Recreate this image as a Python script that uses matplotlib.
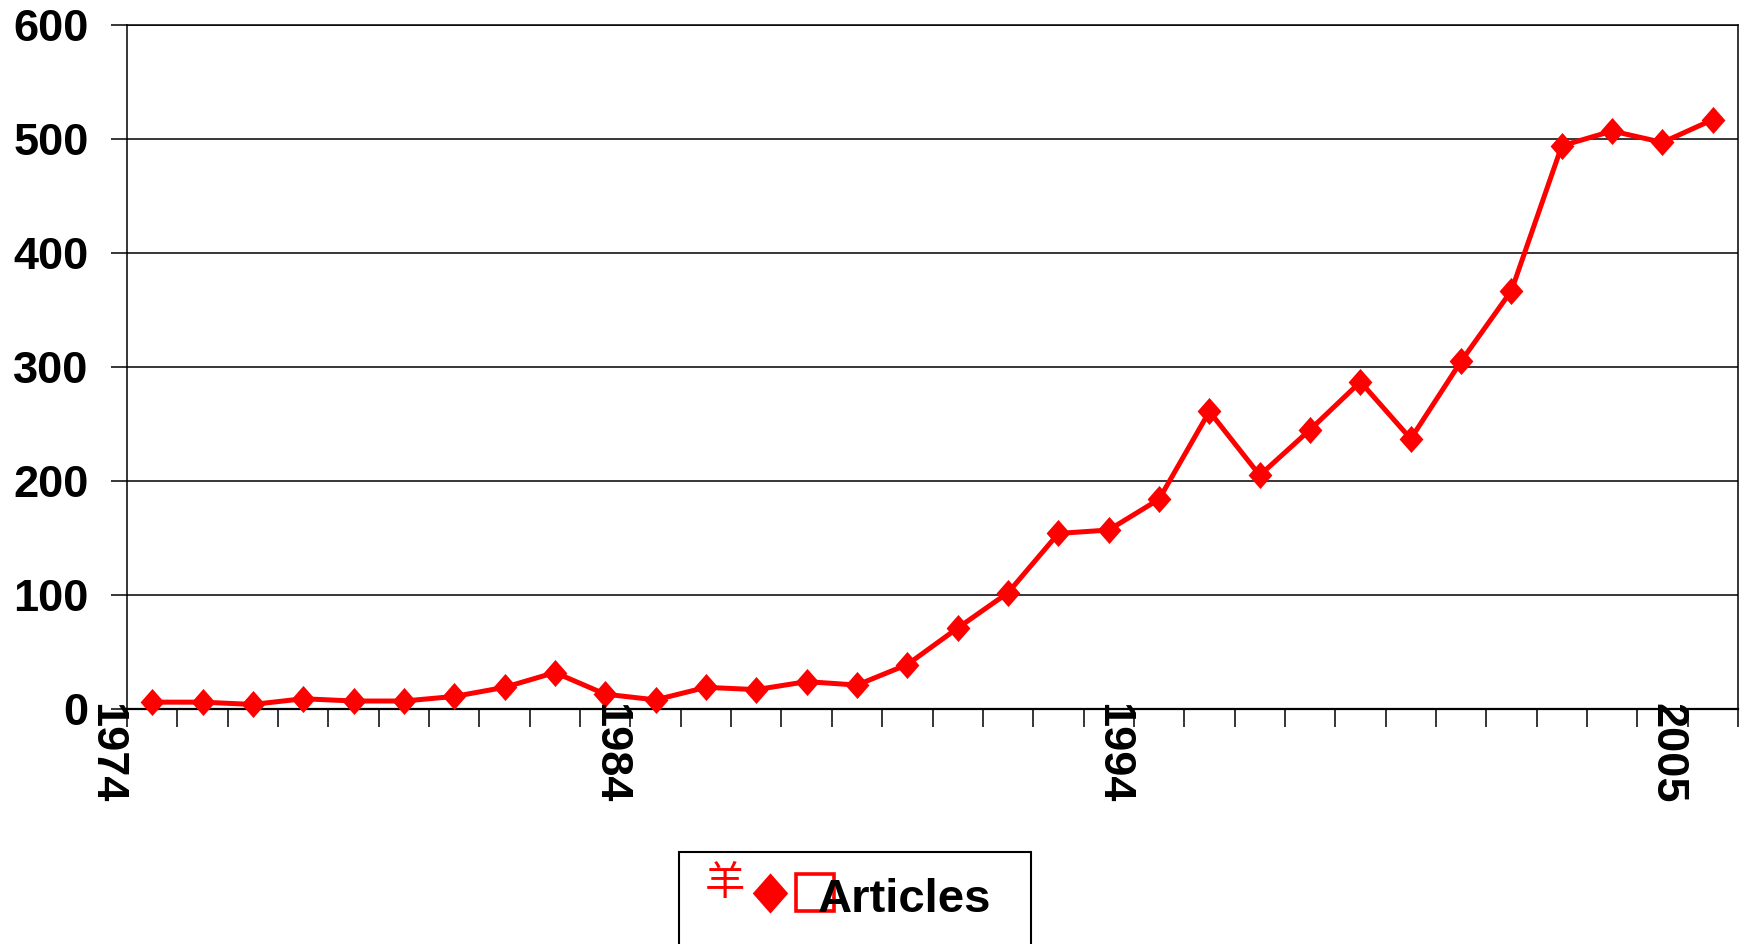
"""Line chart of articles per year, 1974-2005, in the style of an old Excel export."""
import matplotlib

matplotlib.use("Agg")
import matplotlib.pyplot as plt
import matplotlib.transforms as mtransforms
from matplotlib.lines import Line2D
from matplotlib.patches import Rectangle

plt.rcParams["font.family"] = ["Liberation Sans", "DejaVu Sans"]
plt.rcParams["font.weight"] = "bold"

# Data
years = list(range(1974, 2006))
articles = [6, 6, 4, 9, 7, 7, 11, 19, 32, 13, 8, 19, 17, 24, 21, 39,
            71, 102, 154, 157, 184, 261, 205, 245, 287, 237, 305, 367,
            494, 507, 497, 517]
label_years = [1974, 1984, 1994, 2005]
y_ticks = [0, 100, 200, 300, 400, 500, 600]
series_name = "Articles"

W, H = 1746, 944
fig = plt.figure(figsize=(W / 100, H / 100), dpi=100)
ax = fig.add_axes([127 / W, (H - 709) / H, (1738 - 127) / W, (709 - 25) / H])

# slightly taller-than-wide diamond like the Excel marker
diamond = [(-0.44, 0.0), (0.0, 0.5), (0.44, 0.0), (0.0, -0.5), (-0.44, 0.0)]

x = list(range(len(years)))
ax.plot(x, articles, color="#ff0000", lw=3.6, marker=diamond, ms=19.5,
        mew=0, mfc="#ff0000", zorder=3, clip_on=False)

ax.set_xlim(-0.5, len(years) - 0.5)
ax.set_ylim(0, 600)

# gridlines / axes
ax.set_yticks(y_ticks)
ax.set_yticklabels([str(v) for v in y_ticks])
ax.yaxis.grid(True, color="black", lw=1.1)
ax.set_axisbelow(True)
ax.tick_params(axis="y", direction="out", length=11.5, width=1.1, pad=16,
               labelsize=32.5)
for lab in ax.get_yticklabels():
    lab.set_fontweight("bold")

# category boundaries get the tick marks
ax.set_xticks([i - 0.5 for i in range(len(years) + 1)])
ax.set_xticklabels([])
ax.tick_params(axis="x", direction="out", length=13, width=1.1)

for side in ["left", "right", "top"]:
    ax.spines[side].set_linewidth(1.1)
ax.spines["bottom"].set_linewidth(1.6)

# rotated year labels, a bit left of their boundary tick
trans = mtransforms.blended_transform_factory(ax.transData, ax.transAxes)
for yr in label_years:
    pos = years.index(yr) - 0.5 - 0.42
    ax.text(pos, 0.009, str(yr), transform=trans, rotation=-90,
            ha="center", va="top", fontsize=32.5, fontweight="bold",
            clip_on=False, zorder=5)


# Legend box (cut off by the bottom of the image, as in the original)
def fx(px):
    return px / W


def fy(py):
    return (H - py) / H


fig.patches.append(Rectangle((fx(679), fy(990)), fx(1031) - fx(679),
                             fy(852) - fy(990), transform=fig.transFigure,
                             fill=False, edgecolor="black", lw=1.5))
fig.text(fx(725), fy(884), "羊", color="#ff0000", fontsize=29,
         family=["Noto Sans CJK SC", "DejaVu Sans"], fontweight="normal",
         ha="center", va="center")
fig.add_artist(Line2D([fx(770)], [fy(893)], transform=fig.transFigure,
                      marker=diamond, ms=29, mew=0, color="#ff0000",
                      linestyle="none"))
fig.patches.append(Rectangle((fx(796), fy(911)), fx(834) - fx(796),
                             fy(874) - fy(911), transform=fig.transFigure,
                             fill=False, edgecolor="#ff0000", lw=2.6))
fig.text(fx(818), fy(912), series_name, color="black", fontsize=34,
         fontweight="bold", ha="left", va="baseline", zorder=10)

fig.savefig("out.png", dpi=100)
